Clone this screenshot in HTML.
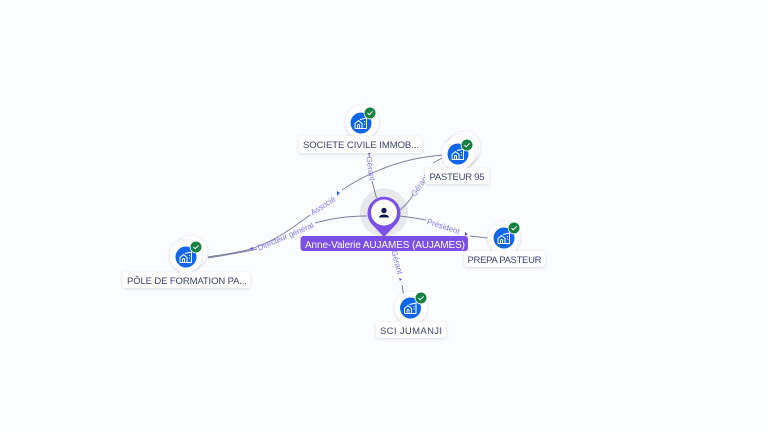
<!DOCTYPE html>
<html><head><meta charset="utf-8"><style>
html,body{margin:0;padding:0;background:#fbfcfe;width:768px;height:432px;overflow:hidden}
svg{display:block}
text{font-family:"Liberation Sans",sans-serif}
.l{font-size:9.5px;fill:#3d4270;text-anchor:middle}
.e{font-size:8px;fill:#8478ee;text-anchor:middle}
.c{fill:none;stroke:#7d819f;stroke-width:1}
.box{fill:#fff;filter:url(#s)}
.w{fill:#fff;filter:url(#r)}
.ic{fill:none;stroke:#fff;stroke-width:1}
.ck{fill:none;stroke:#fff;stroke-width:1}
</style></head><body>
<svg width="768" height="432" viewBox="0 0 768 432" xmlns="http://www.w3.org/2000/svg">
<defs>
<filter id="s" x="-20%" y="-30%" width="140%" height="170%"><feDropShadow dx="0" dy="1" stdDeviation="1.5" flood-color="#5a6080" flood-opacity=".22"/></filter>
<filter id="r" x="-20%" y="-20%" width="140%" height="140%"><feDropShadow dx="0" dy="0.500" stdDeviation="1" flood-color="#5a6080" flood-opacity=".35"/></filter>
<g id="house"><circle r="10.500" fill="#0f66eb"/><path class="ic" d="M-6 5.500V0.500L-2.500-2.500 1 0.500V5.500M-3.500 5.500V2.500A1 1 0 0 1 -1.500 2.500V5.500M-6 5.500H5.500V-5L-1-3.500M3-1.500H4M3 1H4"/></g>
<g id="badge"><circle r="6.300" fill="#fff"/><circle r="5.500" fill="#15803f"/><path class="ck" d="M-2.500 0L-.8 1.800 2.600-1.600"/></g>
</defs>
<rect width="768" height="432" fill="#fbfcfe"/>

<circle cx="384" cy="212.500" r="24" fill="#e7e8eb"/>

<path class="c" d="M369 154L369.500 157M372 181L376.500 198"/>
<path class="c" d="M400 210C406 205 410 200 413 195M433 163L442 158"/>
<path class="c" d="M445 155C410 157 375 168 342 190M310 215C290 230 270 244 247 250C230 254 220 255 208 257"/>
<path class="c" d="M367 216C345 216 330 219 315 223M257 249C240 253 225 255 208 258"/>
<path class="c" d="M400 216C408 217 416 218 426 220M470 236L488 238"/>
<path class="c" d="M392 238L393 249M402 285L403.500 294"/>

<text transform="translate(368 169) rotate(82)" class="e">Gérant</text>
<text transform="translate(422 187) rotate(-55)" class="e">Gérant</text>
<text transform="translate(324.500 208) rotate(-33)" class="e">Associé</text>
<text transform="translate(286.500 239) rotate(-23)" class="e" textLength="60">Directeur général</text>
<text transform="translate(442.500 229) rotate(18)" class="e">Président</text>
<text transform="translate(394.500 263) rotate(75)" class="e">Gérant</text>

<path d="M368 152L371 153L369 155Z" fill="#6a4ee8"/>
<path d="M337 191L340 193L337 196Z" fill="#2a62e0"/>
<path d="M253 247L249.500 248.500L253 250Z" fill="#6a4ee8"/>
<path d="M465 232L468 234L465 236Z" fill="#6a4ee8"/>
<path d="M399 278L402 279L400 281Z" fill="#6a4ee8"/>

<!-- Centre -->
<path d="M384 237L373 225.500A16.500 16.500 0 1 1 395 225.500Z" fill="#7c4fe8"/>
<circle cx="384" cy="212.500" r="13" fill="#fff"/>
<circle cx="384" cy="210.500" r="2.700" fill="#0f1a4a"/>
<path d="M379 217.500C379 213.500 389 213.500 389 217.500Z" fill="#0f1a4a"/>
<rect x="300.500" y="236" width="167.500" height="15" rx="3" fill="#7c4fe8"/>
<text x="385" y="248" font-size="10" fill="#fff" text-anchor="middle" textLength="160">Anne-Valerie AUJAMES (AUJAMES)</text>

<!-- SOCIETE -->
<circle class="w" cx="362" cy="122" r="17"/><use href="#house" x="361" y="123"/><use href="#badge" x="370" y="113"/>
<rect class="box" x="299" y="136" width="123" height="17" rx="3"/>
<text class="l" x="361" y="148" textLength="116">SOCIETE CIVILE IMMOB...</text>

<!-- PASTEUR -->
<circle class="w" cx="464" cy="148" r="16.500"/><circle class="w" cx="461" cy="151" r="16.500"/><circle class="w" cx="458" cy="154" r="16.500"/>
<use href="#house" x="458" y="154"/><use href="#badge" x="467" y="145"/>
<rect class="box" x="425" y="168" width="64" height="16" rx="3"/>
<text class="l" x="457" y="180" textLength="55">PASTEUR 95</text>

<!-- PREPA -->
<circle class="w" cx="504" cy="238" r="16.500"/><use href="#house" x="504" y="238"/><use href="#badge" x="514" y="228"/>
<rect class="box" x="464" y="251" width="81" height="16" rx="3"/>
<text class="l" x="504.500" y="263" textLength="74">PREPA PASTEUR</text>

<!-- SCI -->
<circle class="w" cx="411" cy="308" r="16.500"/><use href="#house" x="410.500" y="308"/><use href="#badge" x="421" y="298"/>
<rect class="box" x="376" y="322" width="70" height="16" rx="3"/>
<text class="l" x="411" y="334" textLength="62">SCI JUMANJI</text>

<!-- POLE -->
<circle class="w" cx="191" cy="252" r="16.500"/><circle class="w" cx="186" cy="256" r="16.500"/>
<use href="#house" x="186" y="257"/><use href="#badge" x="196" y="247"/>
<rect class="box" x="123" y="272" width="127" height="16" rx="3"/>
<text class="l" x="187" y="284" textLength="120">PÔLE DE FORMATION PA...</text>
</svg>
</body></html>
